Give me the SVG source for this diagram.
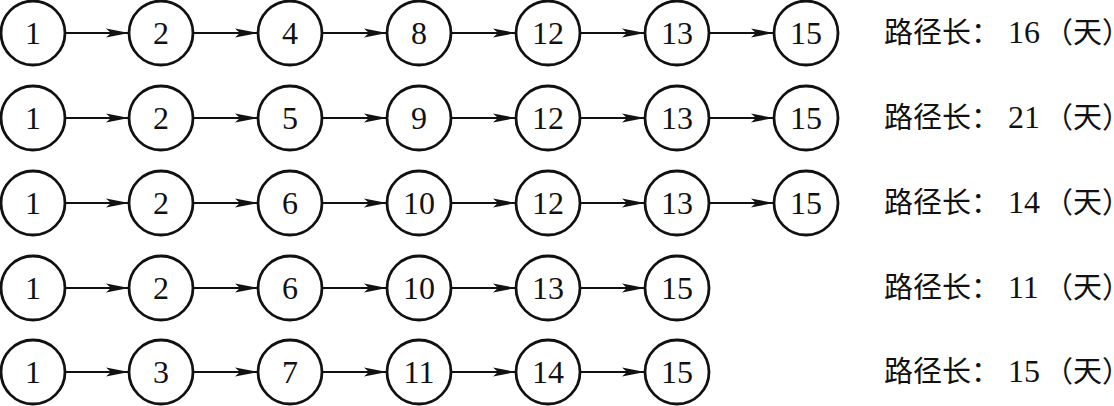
<svg xmlns="http://www.w3.org/2000/svg" width="1114" height="406" viewBox="0 0 1114 406">
<style>
.n circle{fill:#fff;stroke:#111;stroke-width:2.8}
.n text{font-family:"Liberation Serif","Times New Roman",serif;font-size:32px;text-anchor:middle;fill:#111}
.e line{stroke:#111;stroke-width:2}
.lbl{font-family:"Noto Sans CJK SC",sans-serif;font-size:29px;fill:#111}
.num{font-family:"Liberation Serif","Times New Roman",serif;font-size:32px}
</style>
<defs>
<marker id="ah" markerUnits="userSpaceOnUse" markerWidth="24" markerHeight="12" refX="23" refY="5" orient="auto">
<path d="M0,0.5 L23,5 L0,9.5 L5,5 Z" fill="#111"/>
</marker>
</defs>
<g id="connectors" class="e">
<line x1="65" y1="33" x2="129" y2="33" marker-end="url(#ah)"/>
<line x1="193" y1="33" x2="258" y2="33" marker-end="url(#ah)"/>
<line x1="322" y1="33" x2="387" y2="33" marker-end="url(#ah)"/>
<line x1="451" y1="33" x2="516" y2="33" marker-end="url(#ah)"/>
<line x1="580" y1="33" x2="645" y2="33" marker-end="url(#ah)"/>
<line x1="709" y1="33" x2="774" y2="33" marker-end="url(#ah)"/>
<line x1="65" y1="118" x2="129" y2="118" marker-end="url(#ah)"/>
<line x1="193" y1="118" x2="258" y2="118" marker-end="url(#ah)"/>
<line x1="322" y1="118" x2="387" y2="118" marker-end="url(#ah)"/>
<line x1="451" y1="118" x2="516" y2="118" marker-end="url(#ah)"/>
<line x1="580" y1="118" x2="645" y2="118" marker-end="url(#ah)"/>
<line x1="709" y1="118" x2="774" y2="118" marker-end="url(#ah)"/>
<line x1="65" y1="203" x2="129" y2="203" marker-end="url(#ah)"/>
<line x1="193" y1="203" x2="258" y2="203" marker-end="url(#ah)"/>
<line x1="322" y1="203" x2="387" y2="203" marker-end="url(#ah)"/>
<line x1="451" y1="203" x2="516" y2="203" marker-end="url(#ah)"/>
<line x1="580" y1="203" x2="645" y2="203" marker-end="url(#ah)"/>
<line x1="709" y1="203" x2="774" y2="203" marker-end="url(#ah)"/>
<line x1="65" y1="288" x2="129" y2="288" marker-end="url(#ah)"/>
<line x1="193" y1="288" x2="258" y2="288" marker-end="url(#ah)"/>
<line x1="322" y1="288" x2="387" y2="288" marker-end="url(#ah)"/>
<line x1="451" y1="288" x2="516" y2="288" marker-end="url(#ah)"/>
<line x1="580" y1="288" x2="645" y2="288" marker-end="url(#ah)"/>
<line x1="65" y1="372" x2="129" y2="372" marker-end="url(#ah)"/>
<line x1="193" y1="372" x2="258" y2="372" marker-end="url(#ah)"/>
<line x1="322" y1="372" x2="387" y2="372" marker-end="url(#ah)"/>
<line x1="451" y1="372" x2="516" y2="372" marker-end="url(#ah)"/>
<line x1="580" y1="372" x2="645" y2="372" marker-end="url(#ah)"/>
</g>
<g id="r1n1" class="n"><circle cx="33" cy="33" r="32"/><text x="33" y="44">1</text></g>
<g id="r1n2" class="n"><circle cx="161" cy="33" r="32"/><text x="161" y="44">2</text></g>
<g id="r1n3" class="n"><circle cx="290" cy="33" r="32"/><text x="290" y="44">4</text></g>
<g id="r1n4" class="n"><circle cx="419" cy="33" r="32"/><text x="419" y="44">8</text></g>
<g id="r1n5" class="n"><circle cx="548" cy="33" r="32"/><text x="548" y="44">12</text></g>
<g id="r1n6" class="n"><circle cx="677" cy="33" r="32"/><text x="677" y="44">13</text></g>
<g id="r1n7" class="n"><circle cx="806" cy="33" r="32"/><text x="806" y="44">15</text></g>
<g id="r2n1" class="n"><circle cx="33" cy="118" r="32"/><text x="33" y="129">1</text></g>
<g id="r2n2" class="n"><circle cx="161" cy="118" r="32"/><text x="161" y="129">2</text></g>
<g id="r2n3" class="n"><circle cx="290" cy="118" r="32"/><text x="290" y="129">5</text></g>
<g id="r2n4" class="n"><circle cx="419" cy="118" r="32"/><text x="419" y="129">9</text></g>
<g id="r2n5" class="n"><circle cx="548" cy="118" r="32"/><text x="548" y="129">12</text></g>
<g id="r2n6" class="n"><circle cx="677" cy="118" r="32"/><text x="677" y="129">13</text></g>
<g id="r2n7" class="n"><circle cx="806" cy="118" r="32"/><text x="806" y="129">15</text></g>
<g id="r3n1" class="n"><circle cx="33" cy="203" r="32"/><text x="33" y="214">1</text></g>
<g id="r3n2" class="n"><circle cx="161" cy="203" r="32"/><text x="161" y="214">2</text></g>
<g id="r3n3" class="n"><circle cx="290" cy="203" r="32"/><text x="290" y="214">6</text></g>
<g id="r3n4" class="n"><circle cx="419" cy="203" r="32"/><text x="419" y="214">10</text></g>
<g id="r3n5" class="n"><circle cx="548" cy="203" r="32"/><text x="548" y="214">12</text></g>
<g id="r3n6" class="n"><circle cx="677" cy="203" r="32"/><text x="677" y="214">13</text></g>
<g id="r3n7" class="n"><circle cx="806" cy="203" r="32"/><text x="806" y="214">15</text></g>
<g id="r4n1" class="n"><circle cx="33" cy="288" r="32"/><text x="33" y="299">1</text></g>
<g id="r4n2" class="n"><circle cx="161" cy="288" r="32"/><text x="161" y="299">2</text></g>
<g id="r4n3" class="n"><circle cx="290" cy="288" r="32"/><text x="290" y="299">6</text></g>
<g id="r4n4" class="n"><circle cx="419" cy="288" r="32"/><text x="419" y="299">10</text></g>
<g id="r4n5" class="n"><circle cx="548" cy="288" r="32"/><text x="548" y="299">13</text></g>
<g id="r4n6" class="n"><circle cx="677" cy="288" r="32"/><text x="677" y="299">15</text></g>
<g id="r5n1" class="n"><circle cx="33" cy="372" r="32"/><text x="33" y="383">1</text></g>
<g id="r5n2" class="n"><circle cx="161" cy="372" r="32"/><text x="161" y="383">3</text></g>
<g id="r5n3" class="n"><circle cx="290" cy="372" r="32"/><text x="290" y="383">7</text></g>
<g id="r5n4" class="n"><circle cx="419" cy="372" r="32"/><text x="419" y="383">11</text></g>
<g id="r5n5" class="n"><circle cx="548" cy="372" r="32"/><text x="548" y="383">14</text></g>
<g id="r5n6" class="n"><circle cx="677" cy="372" r="32"/><text x="677" y="383">15</text></g>
<g id="labels">
<text class="lbl" x="884" y="43">路径长：<tspan class="num" x="1008">16</tspan><tspan x="1044">（天）</tspan></text>
<text class="lbl" x="884" y="128">路径长：<tspan class="num" x="1008">21</tspan><tspan x="1044">（天）</tspan></text>
<text class="lbl" x="884" y="213">路径长：<tspan class="num" x="1008">14</tspan><tspan x="1044">（天）</tspan></text>
<text class="lbl" x="884" y="298">路径长：<tspan class="num" x="1008">11</tspan><tspan x="1044">（天）</tspan></text>
<text class="lbl" x="884" y="382">路径长：<tspan class="num" x="1008">15</tspan><tspan x="1044">（天）</tspan></text>
</g>
</svg>
